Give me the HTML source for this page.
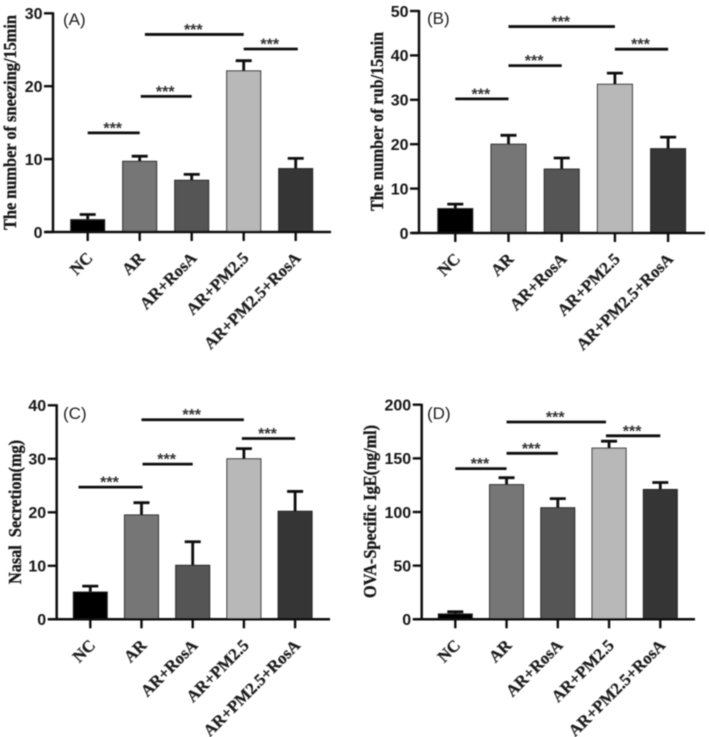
<!DOCTYPE html>
<html lang="en">
<head>
<meta charset="utf-8">
<title>Four-panel bar charts</title>
<style>
html,body{margin:0;padding:0;background:#fff;width:709px;height:737px;overflow:hidden}
svg{display:block}
.tick{font:bold 16px "Liberation Sans",sans-serif;fill:#161616}
.title{font:bold 17.5px "Liberation Serif",serif;fill:#161616;stroke:#161616;stroke-width:.3px}
.cat{font:bold 16.7px "Liberation Serif",serif;fill:#1c1c1c;stroke:#1c1c1c;stroke-width:.25px}
.letter{font:17px "Liberation Sans",sans-serif;fill:#222}
.star{font:bold 16px "Liberation Sans",sans-serif;fill:#333}
</style>
</head>
<body>
<svg id="fig" width="709" height="737" viewBox="0 0 709 737" xmlns="http://www.w3.org/2000/svg">
<defs><filter id="soft" x="-2%" y="-2%" width="104%" height="104%"><feGaussianBlur stdDeviation="0.5"/></filter></defs>
<g id="root" filter="url(#soft)"></g>
</svg>
<script>
const categories = ["NC", "AR", "AR+RosA", "AR+PM2.5", "AR+PM2.5+RosA"];
const barColors = ["#000000", "#767676", "#555555", "#b8b8b8", "#363636"];

const valuesA = [1.7, 9.7, 7.1, 22.1, 8.7];
const errorsA = [0.7, 0.7, 0.8, 1.4, 1.4];
const ticksA = [0, 10, 20, 30];
const sigLevelsA = [13.6, 18.6, 27.1, 25.1];
const sigFromA = [0, 1.02, 1.1, 3];
const sigToA = [1, 2, 3, 4.04];

const valuesB = [5.5, 20, 14.4, 33.5, 19];
const errorsB = [1, 2, 2.5, 2.5, 2.6];
const ticksB = [0, 10, 20, 30, 40, 50];
const sigLevelsB = [30.2, 37.7, 46.5, 41.4];
const sigFromB = [0, 1, 1, 3];
const sigToB = [1, 2, 3, 4];

const valuesC = [5.1, 19.5, 10.1, 30, 20.2];
const errorsC = [1.1, 2.3, 4.4, 1.9, 3.7];
const ticksC = [0, 10, 20, 30, 40];
const sigLevelsC = [24.7, 29, 37.3, 33.8];
const sigFromC = [-0.23, 1.02, 1, 2.96];
const sigToC = [1.02, 2, 3, 4];

const valuesD = [5, 125.5, 104, 159.5, 121];
const errorsD = [2, 6.5, 8.5, 6.5, 6.5];
const ticksD = [0, 50, 100, 150, 200];
const sigLevelsD = [140.4, 154.7, 183.9, 171];
const sigFromD = [0, 1, 1, 2.94];
const sigToD = [1, 2, 2.94, 4];

const panels = [
  {id:"a", letter:"(A)", title:"The number of sneezing/15min", values:valuesA, errors:errorsA, ticks:ticksA, levels:sigLevelsA, from:sigFromA, to:sigToA,
   axisX:53, y0:232, yTop:13.3, yMax:30, x0:87.7, step:52, barW:34, xEnd:331, xStart:45, titleX:16, titleTop:15, titleBottom:230, letterX:63, letterY:25},
  {id:"b", letter:"(B)", title:"The number of rub/15min", values:valuesB, errors:errorsB, ticks:ticksB, levels:sigLevelsB, from:sigFromB, to:sigToB,
   axisX:419, y0:233, yTop:11, yMax:50, x0:455.3, step:53.2, barW:35, xEnd:705, xStart:412, titleX:383, titleTop:32, titleBottom:211, letterX:427, letterY:24},
  {id:"c", letter:"(C)", title:"Nasal\u00a0 Secretion(mg)", values:valuesC, errors:errorsC, ticks:ticksC, levels:sigLevelsC, from:sigFromC, to:sigToC,
   axisX:56.7, y0:619.3, yTop:405.3, yMax:40, x0:90.3, step:51.2, barW:34, xEnd:330, xStart:48, titleX:21, titleTop:440, titleBottom:584, letterX:63, letterY:419},
  {id:"d", letter:"(D)", title:"OVA-Specific IgE(ng/ml)", values:valuesD, errors:errorsD, ticks:ticksD, levels:sigLevelsD, from:sigFromD, to:sigToD,
   axisX:421.7, y0:619.3, yTop:404.7, yMax:200, x0:455.3, step:51.25, barW:34, xEnd:695, xStart:413, titleX:376, titleTop:425, titleBottom:598, letterX:427, letterY:419}
];

const NS = "http://www.w3.org/2000/svg";
const root = document.getElementById("root");

function make(parent, tag, attrs, text) {
  const el = document.createElementNS(NS, tag);
  for (const k in attrs) el.setAttribute(k, attrs[k]);
  if (text !== undefined) el.textContent = text;
  parent.appendChild(el);
  return el;
}

panels.forEach(function (p) {
  const yScale = function (v) { return p.y0 - (v / p.yMax) * (p.y0 - p.yTop); };
  const xScale = function (i) { return p.x0 + i * p.step; };

  const g = make(root, "g", {});
  
  

  p.values.forEach(function (v, i) {
    const cx = xScale(i);
    const top = yScale(v);
    const errTop = yScale(v + p.errors[i]);
    const err = make(g, "path", {
      d: "M" + cx + " " + top + "V" + errTop + "M" + (cx - 8) + " " + errTop + "H" + (cx + 8),
      stroke: "#111", "stroke-width": 2.8, fill: "none"
    });
    
    
    const bar = make(g, "rect", {
      x: cx - p.barW / 2, y: top, width: p.barW, height: p.y0 - top,
      fill: barColors[i], stroke: "#222", "stroke-width": 1
    });
    
    

    const tick = make(g, "line", {x1: cx, x2: cx, y1: p.y0, y2: p.y0 + 9, stroke: "#111", "stroke-width": 2.4});
    
    

    const lx = cx + 6;
    const ly = p.y0 + 27;
    const label = make(g, "text", {
      x: lx, y: ly, "text-anchor": "end", "class": "cat",
      transform: "rotate(-45 " + lx + " " + ly + ")"
    }, categories[i]);
    
    
  });

  const yAxis = make(g, "line", {x1: p.axisX, x2: p.axisX, y1: p.yTop - 1, y2: p.y0 + 1, stroke: "#111", "stroke-width": 2.5});
  
  

  const xAxis = make(g, "line", {x1: p.xStart, x2: p.xEnd, y1: p.y0, y2: p.y0, stroke: "#111", "stroke-width": 2.5});
  
  

  p.ticks.forEach(function (t) {
    const y = yScale(t);
    const tl = make(g, "line", {x1: p.axisX - 9, x2: p.axisX, y1: y, y2: y, stroke: "#111", "stroke-width": 2.4});
    
    
    const tx = make(g, "text", {x: p.axisX - 10.5, y: y + 5.8, "text-anchor": "end", "class": "tick"}, String(t));
    
    
  });

  p.levels.forEach(function (lvl, i) {
    const y = yScale(lvl);
    const x1 = xScale(p.from[i]);
    const x2 = xScale(p.to[i]);
    const line = make(g, "line", {x1: x1, x2: x2, y1: y, y2: y, stroke: "#111", "stroke-width": 2.8});
    
    
    const star = make(g, "text", {x: (x1 + x2) / 2 - 1, y: y + 0.5, "text-anchor": "middle", "class": "star"}, "***");
    
    
  });

  const titleLen = p.titleBottom - p.titleTop;
  const titleMid = (p.titleBottom + p.titleTop) / 2;
  const title = make(g, "text", {
    x: p.titleX, y: titleMid, "text-anchor": "middle", "class": "title",
    transform: "rotate(-90 " + p.titleX + " " + titleMid + ")",
    textLength: titleLen, lengthAdjust: "spacingAndGlyphs"
  }, p.title);
  
  

  const letter = make(g, "text", {x: p.letterX, y: p.letterY, "class": "letter"}, p.letter);
  
  
});
</script>
</body>
</html>
